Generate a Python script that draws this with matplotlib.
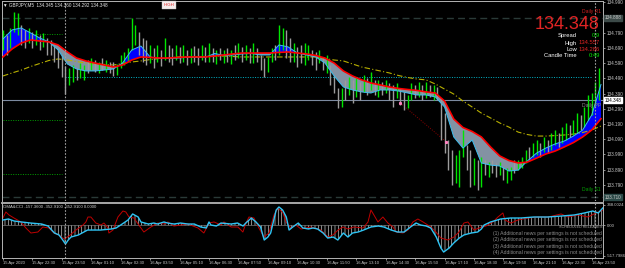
import numpy as np
import matplotlib
matplotlib.use("Agg")
import matplotlib.pyplot as plt

plt.rcParams['font.family'] = ['Liberation Sans', 'DejaVu Sans']
plt.rcParams['hatch.linewidth'] = 0.5

# ---------------- data ----------------
# 10-minute candles, one every 2 bars of M5
candle_high = [134.809, 134.776, 134.822, 134.927, 134.920, 134.842, 134.809, 134.822, 134.795, 134.809,
               134.776, 134.789, 134.756, 134.743, 134.710, 134.690, 134.644, 134.572, 134.559, 134.578,
               134.559, 134.591, 134.578, 134.611, 134.624, 134.611, 134.598, 134.624, 134.611, 134.598,
               134.598, 134.585, 134.644, 134.664, 134.690, 134.888, 134.842, 134.795, 134.756, 134.743,
               134.710, 134.690, 134.710, 134.677, 134.756, 134.710, 134.690, 134.710, 134.697, 134.710,
               134.677, 134.690, 134.703, 134.690, 134.710, 134.697, 134.723, 134.690, 134.677, 134.690,
               134.677, 134.690, 134.677, 134.710, 134.723, 134.697, 134.710, 134.690, 134.723, 134.690,
               134.644, 134.624, 134.631, 134.690, 134.710, 134.842, 134.822, 134.809, 134.756, 134.723,
               134.697, 134.710, 134.723, 134.710, 134.677, 134.664, 134.677, 134.631, 134.644, 134.578,
               134.513, 134.427, 134.427, 134.480, 134.499, 134.480, 134.493, 134.467, 134.513, 134.493,
               134.532, 134.480, 134.480, 134.467, 134.480, 134.460, 134.447, 134.460, 134.427, 134.401,
               134.381, 134.460, 134.447, 134.467, 134.447, 134.467, 134.447, 134.447, 134.434, 134.361,
               134.263, 134.085, 134.019, 133.986, 134.019, 134.151, 134.052, 134.019, 133.966, 133.953,
               133.973, 133.953, 133.940, 133.953, 133.934, 133.940, 133.907, 133.901, 133.907, 133.953,
               133.953, 133.973, 134.019, 134.039, 134.065, 134.085, 134.065, 134.105, 134.085, 134.131,
               134.151, 134.131, 134.171, 134.197, 134.184, 134.216, 134.263, 134.249, 134.302, 134.381,
               134.394, 134.467, 134.559]
candle_low = [134.677, 134.644, 134.690, 134.795, 134.776, 134.710, 134.690, 134.723, 134.690, 134.710,
              134.677, 134.697, 134.644, 134.644, 134.598, 134.559, 134.499, 134.388, 134.447, 134.467,
              134.480, 134.493, 134.480, 134.526, 134.545, 134.532, 134.526, 134.545, 134.532, 134.526,
              134.506, 134.513, 134.559, 134.578, 134.598, 134.677, 134.710, 134.644, 134.598, 134.578,
              134.591, 134.559, 134.598, 134.572, 134.611, 134.598, 134.578, 134.611, 134.591, 134.598,
              134.578, 134.591, 134.598, 134.578, 134.611, 134.598, 134.598, 134.598, 134.585, 134.611,
              134.591, 134.598, 134.585, 134.611, 134.624, 134.598, 134.611, 134.591, 134.591, 134.598,
              134.545, 134.499, 134.532, 134.598, 134.611, 134.644, 134.677, 134.624, 134.598, 134.598,
              134.565, 134.591, 134.578, 134.611, 134.578, 134.545, 134.591, 134.545, 134.526, 134.447,
              134.394, 134.295, 134.302, 134.348, 134.381, 134.328, 134.368, 134.348, 134.401, 134.381,
              134.414, 134.381, 134.368, 134.381, 134.394, 134.348, 134.302, 134.361, 134.315, 134.282,
              134.295, 134.348, 134.361, 134.368, 134.348, 134.361, 134.368, 134.348, 134.348, 134.085,
              133.999, 133.887, 133.789, 133.802, 133.776, 133.973, 133.887, 133.776, 133.789, 133.756,
              133.776, 133.855, 133.841, 133.868, 133.841, 133.855, 133.822, 133.802, 133.822, 133.868,
              133.887, 133.901, 133.934, 133.953, 133.973, 133.986, 133.973, 134.006, 133.999, 134.019,
              134.052, 134.039, 134.065, 134.085, 134.105, 134.118, 134.131, 134.151, 134.171, 134.216,
              134.249, 134.315, 134.348]
candle_bull = [1, 0, 1, 1, 1, 0, 0, 1, 0, 1, 0, 1, 0, 0, 0, 0, 0, 0, 1, 1,
               0, 1, 1, 0, 1, 0, 1, 0, 1, 0, 0, 1, 1, 1, 1, 1, 1, 0, 0, 0,
               1, 0, 1, 0, 1, 0, 0, 1, 0, 1, 0, 1, 0, 0, 1, 0, 1, 0, 1, 0,
               1, 0, 1, 0, 1, 0, 1, 0, 1, 0, 0, 0, 1, 1, 0, 1, 1, 0, 0, 1,
               0, 0, 1, 1, 0, 0, 1, 0, 1, 0, 0, 0, 1, 0, 1, 0, 1, 0, 1, 0,
               1, 0, 1, 0, 1, 0, 0, 1, 0, 0, 1, 1, 0, 1, 0, 1, 0, 1, 0, 0,
               0, 0, 0, 1, 1, 1, 0, 0, 1, 0, 1, 0, 1, 0, 0, 1, 0, 1, 1, 0,
               1, 1, 1, 0, 1, 1, 0, 1, 0, 1, 1, 0, 1, 1, 0, 1, 1, 0, 1, 1,
               1, 1, 1]

# moving averages, sampled every 5 bars
ma_bars = list(range(0, 326, 5))
ma_slow = [134.631, 134.684, 134.723, 134.743, 134.736, 134.730, 134.710, 134.664, 134.624, 134.605,
           134.591, 134.578, 134.565, 134.578, 134.611, 134.631, 134.628, 134.624, 134.624, 134.628,
           134.631, 134.631, 134.631, 134.637, 134.644, 134.651, 134.657, 134.657, 134.657, 134.657,
           134.661, 134.664, 134.657, 134.651, 134.641, 134.624, 134.591, 134.539, 134.506, 134.480,
           134.460, 134.447, 134.434, 134.424, 134.417, 134.411, 134.401, 134.394, 134.341, 134.223,
           134.167, 134.141, 134.105, 134.039, 133.980, 133.950, 133.934, 133.940, 133.966, 133.993,
           134.012, 134.039, 134.068, 134.105, 134.151, 134.225]
ma_fast = [134.749, 134.809, 134.822, 134.789, 134.756, 134.730, 134.677, 134.585, 134.552, 134.539,
           134.539, 134.545, 134.552, 134.591, 134.677, 134.703, 134.631, 134.621, 134.621, 134.624,
           134.628, 134.628, 134.628, 134.654, 134.641, 134.644, 134.651, 134.654, 134.644, 134.644,
           134.710, 134.697, 134.657, 134.644, 134.631, 134.591, 134.506, 134.434, 134.414, 134.401,
           134.394, 134.414, 134.414, 134.407, 134.394, 134.381, 134.381, 134.368, 134.302, 134.105,
           134.032, 134.085, 133.934, 133.920, 133.914, 133.881, 133.887, 133.947, 133.999, 134.032,
           134.059, 134.078, 134.111, 134.150, 134.250, 134.450]
ma_long = [134.506, 134.526, 134.545, 134.568, 134.588, 134.608, 134.618, 134.611, 134.601, 134.591,
           134.585, 134.582, 134.578, 134.588, 134.598, 134.605, 134.614, 134.621, 134.624, 134.631,
           134.631, 134.634, 134.634, 134.637, 134.637, 134.634, 134.631, 134.631, 134.631, 134.631,
           134.631, 134.631, 134.631, 134.631, 134.631, 134.621, 134.611, 134.605, 134.585, 134.565,
           134.552, 134.539, 134.526, 134.509, 134.496, 134.486, 134.480, 134.453, 134.420, 134.387,
           134.341, 134.302, 134.262, 134.230, 134.197, 134.170, 134.137, 134.121, 134.111, 134.111,
           134.114, 134.118, 134.124, 134.134, 134.151, 134.177]

daily_r1 = 134.888
daily_pp = 134.345
daily_s1 = 133.710
prev_level = 134.499
left_levels = [134.782, 134.216, 133.861]
day_breaks = [34, 322]
trend_bars = [216, 241]
trend_prices = [134.328, 134.072]

# 134.890 sits under the Daily R1 box, so it has no label of its own
price_ticks = [134.990, 134.790, 134.690, 134.590, 134.490, 134.390,
               134.290, 134.190, 134.090, 133.990, 133.890, 133.790]
time_ticks = list(range(0, 321, 16))
time_labels = ["15 Apr 2020", "15 Apr 22:30", "15 Apr 23:50", "16 Apr 01:10", "16 Apr 02:30",
               "16 Apr 03:50", "16 Apr 05:10", "16 Apr 06:30", "16 Apr 07:50", "16 Apr 09:10",
               "16 Apr 10:30", "16 Apr 11:50", "16 Apr 13:10", "16 Apr 14:30", "16 Apr 15:50",
               "16 Apr 17:10", "16 Apr 18:30", "16 Apr 19:50", "16 Apr 21:10", "16 Apr 22:30",
               "16 Apr 23:50"]

# oscillator window
osc_bar = [0, 3, 6, 10, 15, 21, 24.5, 26, 28, 30.5, 32.5, 34, 35.5, 37, 41, 44, 46, 53, 59, 61.5,
           64, 68, 70.5, 73.5, 75, 79, 82, 84, 87.5, 89.5, 93, 96.5, 100.5, 104, 107.5, 110.5, 112, 113,
           116, 118.5, 124, 127.5, 130.5, 132, 135, 137.5, 140, 142, 144, 145.5, 148.5, 150, 152, 154,
           155.5, 157.5, 160.5, 163, 166, 168.5, 171, 174, 176.5, 179.5, 182, 185, 187.5, 190, 193, 196,
           200, 204, 207, 211, 214.5, 218, 221.5, 224.5, 227, 230, 232.5, 235.5, 238, 239.5, 242.5, 245,
           248, 250.5, 254.5, 258, 260, 261.5, 265, 270.5, 276, 281.5, 288.5, 296, 303.5, 310.5, 316,
           320.5, 323.5, 326]
osc_main = [91, 108, 74, 57, 39, 22, -12, -63, -132, -166, -252, -321, -252, -201, -166, -115, -81, -81, -63, -46,
            5, 91, 194, 142, 57, 22, 39, 22, 57, 39, 22, 39, 22, 22, -29, -46, 57, 5,
            -12, 39, 22, 39, -12, 39, 125, 57, -29, -252, -201, -132, 262, 314, 262, 142,
            -81, -29, 39, -46, -63, -46, -63, -132, -218, -201, -252, -132, -201, -132, -115, -81,
            -29, -12, -29, -81, -115, -115, -29, 39, 5, -12, -46, -201, -389, -458, -389, -303,
            -218, -166, -132, -115, -63, 5, 57, 108, 125, 125, 142, 142, 159, 177, 211,
            245, 211, 297]
sig_bar = [0, 1.6, 3.3, 6, 9.8, 12.5, 15.2, 19, 21.7, 25, 27.7, 30.4, 33.2, 35.9, 39.7, 43.5, 45.1, 46.2,
           47.8, 50.5, 53.3, 54.9, 57.1, 57.6, 59.8, 62.5, 65.2, 66.8, 68.5, 71.2, 75, 76.6, 80.4, 84.2,
           87.5, 89.7, 92.9, 96.7, 100.5, 106, 109.2, 112, 114.7, 118.5, 120.1, 124, 127.7, 130.4, 132.1,
           133.7, 136.4, 139.1, 141.8, 144.6, 147.3, 149.5, 152.2, 153.8, 156.5, 159.2, 162, 167.4,
           172.8, 176.6, 179.3, 182.1, 184.8, 187.5, 190.8, 195.7, 198.4, 200, 201.6, 203.8, 206.5,
           209.2, 212, 213.6, 217.4, 220.1, 222.8, 225.5, 228.3, 232.6, 235.3, 238, 241.8, 245.1,
           247.8, 250.5, 252.7, 256, 258.7, 262.5, 266.3, 269, 271.7, 272.8, 276.1, 279.9, 285.3,
           290.8, 296.2, 303.3, 307.1, 312.5, 317.9, 321.2, 326.1]
sig_line = [125, 228, 177, 125, 57, -46, -132, -115, -29, -46, -132, -166, -235, -183, -81, 5, 57, 142,
            142, 39, 5, 39, -46, -132, -81, 142, 245, 228, 142, 125, -46, -115, -29, 39,
            22, 57, -12, 5, 22, -46, -132, 39, 57, 5, 57, -29, -29, -115, 39,
            142, 125, -46, -201, -132, 177, 297, 211, 57, -46, 5, -63, -29,
            -81, -201, -166, -81, -29, -63, -29, -46, 57, 262, 177, 57, 142,
            39, -29, -115, -132, -81, 57, 108, 57, -29, -115, -218, -252, -201,
            -115, 39, 57, -81, -46, -12, 57, 142, 211, 91, 39, 91, 125,
            142, 142, 194, 142, 177, 142, 194, 262]
osc_ticks = [348.0024, 0.0, -517.7986]
osc_tick_labels = ["348.0024", "0.00", "-517.7986"]
news_lines = ["(1) Additional news per settings is not scheduled",
              "(2) Additional news per settings is not scheduled",
              "(3) Additional news per settings is not scheduled",
              "(4) Additional news per settings is not scheduled"]

W, H = 625, 268
GRID = '#b4b4b4'

fig = plt.figure(figsize=(6.25, 2.68), dpi=100, facecolor='black')
ax = fig.add_axes([2 / W, 67 / H, 601 / W, 200 / H], facecolor='black')
ax2 = fig.add_axes([2 / W, 10 / H, 601 / W, 55 / H], facecolor='black')

# ---- main price window ----
xb = np.array(ma_bars)
slow = np.array(ma_slow)
fast = np.array(ma_fast)
ax.fill_between(xb, slow, fast, where=fast >= slow, interpolate=True, color='#0000ff', lw=0, zorder=1)
ax.fill_between(xb, slow, fast, where=fast < slow, interpolate=True, color='#8392a3', lw=0, zorder=1)
ax.plot(xb, ma_long, color='#b8b000', lw=0.8, dashes=(5, 2, 1, 2), zorder=2)

cx = np.arange(len(candle_high)) * 2
ccol = ['#00e600' if b else '#9c9c9c' for b in candle_bull]
ax.vlines(cx, candle_low, candle_high, colors=ccol, lw=1.0, zorder=3)

ax.plot(xb, fast, color='#3cbfef', lw=0.7, zorder=4)
ax.plot(xb, slow, color='#ff0000', lw=1.2, zorder=4)

ax.axhline(daily_r1, color='#2a3a38', lw=1.0, dashes=(5, 3), zorder=0)
ax.axhline(daily_s1, color='#2a3a38', lw=1.0, dashes=(5, 3), zorder=0)
ax.axhline(daily_pp, color='#7c8aa0', lw=0.8, zorder=0)
ax.hlines(prev_level, day_breaks[0], 320, color='#00b4c8', lw=0.7, linestyles=(0, (1, 1.5)), zorder=0)
ax.hlines(left_levels, 0, 32, color='#00a000', lw=0.7, linestyles=(0, (1, 1.5)), zorder=0)
ax.plot(trend_bars, trend_prices, color='#8a0000', lw=0.7, ls=(0, (1, 1.5)), zorder=2)
ax.plot(trend_bars, trend_prices, 's', color='#ff80c0', ms=1.2, zorder=5)
for a in (ax, ax2):
    for b in day_breaks:
        a.axvline(b, color='#a0a0a0', lw=0.8, dashes=(1.5, 1.5), zorder=5)

ax.set_xlim(-0.5, 326.1)
ax.set_ylim(133.684, 134.999)
ax.set_xticks([])
ax.yaxis.tick_right()
ax.set_yticks(price_ticks, [f"{p:.3f}" for p in price_ticks])
ax.tick_params(axis='y', length=1.5, width=0.5, pad=1, labelsize=3.3, colors='#c8c8c8')
for s in ('left', 'top', 'right'):
    ax.spines[s].set_color(GRID)
    ax.spines[s].set_linewidth(0.7)
ax.spines['bottom'].set_visible(False)

# price boxes on the scale
ytr = ax.get_yaxis_transform()
ax.text(1.003, 134.348, "134.348", transform=ytr, fontsize=3.3, color='black', va='center',
        bbox=dict(boxstyle='square,pad=0.15', fc='white', ec='white'), clip_on=False, zorder=6)
ax.text(1.003, daily_r1, "134.888", transform=ytr, fontsize=3.3, color='#c8c8c8', va='center',
        bbox=dict(boxstyle='square,pad=0.15', fc='#3c4a48', ec='#3c4a48'), clip_on=False, zorder=6)
ax.text(1.003, daily_s1, "133.710", transform=ytr, fontsize=3.3, color='#c8c8c8', va='center',
        bbox=dict(boxstyle='square,pad=0.15', fc='#2c4a48', ec='#2c4a48'), clip_on=False, zorder=6)

# labels on the chart
def px(x, y):
    return x / W, 1 - y / H

fig.text(*px(3, 4.5), "\u25bc GBPJPY,M5  134.345 134.360 134.292 134.348", fontsize=3.3,
         color='#e6e6e6', va='center')
fig.text(*px(169, 5), "HIGH", fontsize=3.1, color='#e02020', ha='center', va='center',
         bbox=dict(boxstyle='square,pad=0.45', fc='#f4ecec', ec='#c0c0c0', lw=0.3))
fig.text(*px(601, 11.7), "Daily R1", fontsize=3.6, color='#d02020', ha='right', va='center')
fig.text(*px(599, 24.5), "134.348", fontsize=13, color='#e02424', ha='right', va='center')
info = [("Spread", "0.9", '#00e600', 35.5), ("High", "134.557", '#e02424', 43),
        ("Low", "134.286", '#e02424', 49.5), ("Candle Time", "0:49", '#00e600', 56)]
for lab, val, col, y in info:
    fig.text(*px(577, y), lab, fontsize=4.2, color='white', ha='right', va='center')
    fig.text(*px(600, y), val, fontsize=4.2, color=col, ha='right', va='center')
fig.text(*px(601, 105), "Daily PP", fontsize=3.6, color='#8a8a8a', ha='right', va='center')
fig.text(*px(601, 189), "Daily S1", fontsize=3.6, color='#00a000', ha='right', va='center')

# ---- oscillator window ----
ax2.fill_between(osc_bar, 0, osc_main, facecolor='none', edgecolor='#c4c4c4', hatch='|' * 5,
                 lw=0, zorder=1)
ax2.axhline(0, color='#909090', lw=0.4, zorder=1)
ax2.plot(sig_bar, sig_line, color='#c00000', lw=0.7, zorder=2)
ax2.plot(osc_bar, osc_main, color='#2ec4f4', lw=1.0, zorder=3)
ax2.set_xlim(-0.5, 326.1)
ax2.set_ylim(-560, 382)
ax2.yaxis.tick_right()
ax2.set_yticks(osc_ticks, osc_tick_labels)
ax2.tick_params(axis='y', length=1.5, width=0.5, pad=1, labelsize=3.1, colors='#c8c8c8')
ax2.set_xticks(time_ticks, time_labels)
ax2.tick_params(axis='x', length=1.5, width=0.5, pad=0.8, labelsize=3.0, colors='#c8c8c8')
for lab in ax2.get_xticklabels():
    lab.set_ha('left')
for s in ax2.spines.values():
    s.set_color(GRID)
    s.set_linewidth(0.7)
ax2.spines['top'].set_linewidth(1.3)

fig.text(*px(3, 206.7), "OMA&CCI -157.3600 -352.9100 -352.9100 0.0000", fontsize=3.1,
         color='#d0d0d0', va='center')
fig.text(*px(602, 227), "SCHEDULED RELEASES", fontsize=2.7, color='#a8a8a8', ha='right', va='center')
for i, line in enumerate(news_lines):
    fig.text(*px(602, 233.3 + 6.5 * i), line, fontsize=3.6, color='#8c8c8c', ha='right', va='center')

fig.savefig("out.png", dpi=100, facecolor='black')
